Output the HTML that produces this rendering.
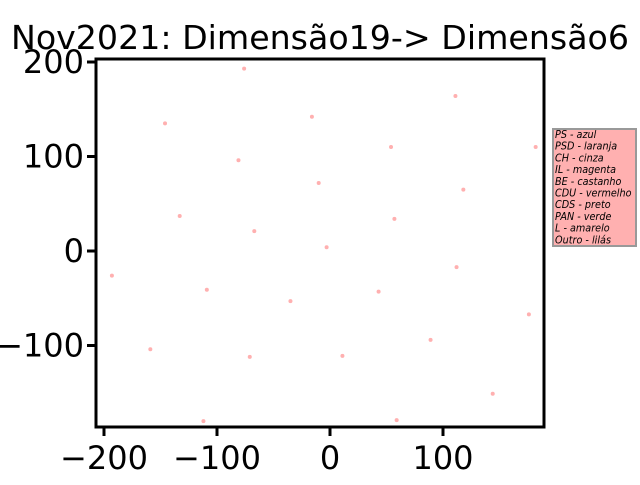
<!DOCTYPE html>
<html><head><meta charset="utf-8"><style>
body{margin:0;background:#fff;}
svg text{font-family:"DejaVu Sans","Liberation Sans",sans-serif;}
</style></head><body>
<svg width="640" height="480" viewBox="0 0 640 480" xmlns="http://www.w3.org/2000/svg">
<rect width="640" height="480" fill="#fff"/>
<text x="320" y="49" font-size="33" text-anchor="middle" textLength="618" lengthAdjust="spacingAndGlyphs">Nov2021: Dimensão19-&gt; Dimensão6</text>
<g id="pts"></g>
<g id="axes"></g>
<rect x="553" y="129" width="83" height="117" fill="#ffb0b0" stroke="#999" stroke-width="2"/>
<g id="leg" font-size="10.5" font-style="italic" transform="translate(555 0) scale(0.92 1)"></g>
</svg>
<script>
const xsData=[-76,111,-146,-16,54,182,-81,-10,118,-133,57,-67,-3,-193,112,-109,43,-35,176,-159,89,-71,11,144,-112,59];
const ysData=[193,164,135,142,110,110,96,72,65,37,34,21,4,-26,-17,-41,-43,-53,-67,-104,-94,-112,-111,-151,-180,-179];
const xTicks=[-200,-100,0,100];
const yTicks=[200,100,0,-100];
const legendLabels=["PS - azul","PSD - laranja","CH - cinza","IL - magenta","BE - castanho","CDU - vermelho","CDS - preto","PAN - verde","L - amarelo","Outro - lilás"];
const NS="http://www.w3.org/2000/svg";
const X=v=>330+v*1.13, Y=v=>251-v*0.945;
const L=96,R=544,T=59,B=427;
function mk(t,a,p){const e=document.createElementNS(NS,t);for(const k in a)e.setAttribute(k,a[k]);p.appendChild(e);return e;}
const pts=document.getElementById('pts');
xsData.forEach((x,i)=>{const c=mk('circle',{cx:X(x),cy:Y(ysData[i]),r:2,fill:'#ffb0b0'},pts);

});
const ax=document.getElementById('axes');
const fr=mk('rect',{x:L,y:T,width:R-L,height:B-T,fill:'none',stroke:'#000','stroke-width':3},ax);


xTicks.forEach(v=>{mk('line',{x1:X(v),x2:X(v),y1:B,y2:B+9,stroke:'#000','stroke-width':3},ax);
const t=mk('text',{x:X(v),y:B+42,'font-size':32,'text-anchor':'middle'},ax);t.textContent=(v<0?'\u2212':'')+Math.abs(v);

});
yTicks.forEach(v=>{mk('line',{x1:L-9,x2:L,y1:Y(v),y2:Y(v),stroke:'#000','stroke-width':3},ax);
const t=mk('text',{x:L-12,y:Y(v)+11,'font-size':32,'text-anchor':'end'},ax);t.textContent=(v<0?'\u2212':'')+Math.abs(v);

});
const lg=document.getElementById('leg');
legendLabels.forEach((s,i)=>{const t=mk('text',{x:0,y:138+i*11.7},lg);t.textContent=s;

});
</script>
</body></html>
